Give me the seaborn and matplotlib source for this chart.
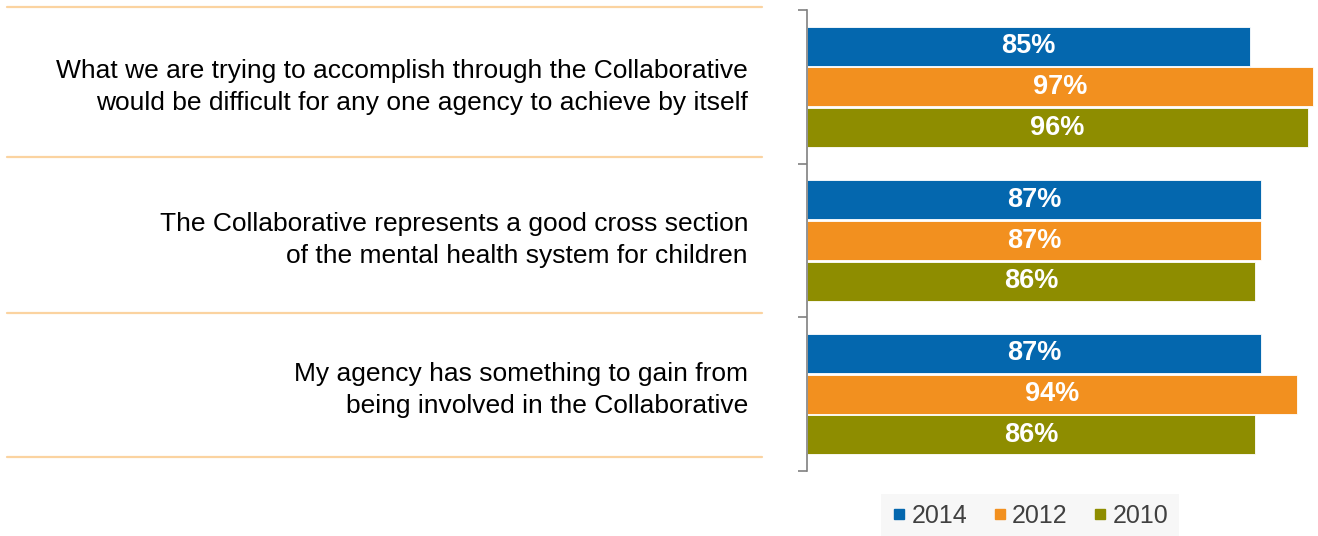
import matplotlib
matplotlib.use("Agg")
import matplotlib.pyplot as plt
from matplotlib.lines import Line2D
import seaborn as sns
import pandas as pd

# Survey statements and agreement shares by survey year
statements = [
    "What we are trying to accomplish through the Collaborative\nwould be difficult for any one agency to achieve by itself",
    "The Collaborative represents a good cross section\nof the mental health system for children",
    "My agency has something to gain from\nbeing involved in the Collaborative",
]
years = ["2014", "2012", "2010"]
pct_2014 = [85, 87, 87]
pct_2012 = [97, 87, 94]
pct_2010 = [96, 86, 86]

colors = ["#0467AE", "#F2901F", "#8E8D00"]

rows = []
for yr, vals in zip(years, [pct_2014, pct_2012, pct_2010]):
    for st, v in zip(statements, vals):
        rows.append({"statement": st, "year": yr, "pct": v})
df = pd.DataFrame(rows)

sns.set_theme(style="white")
plt.rcParams["font.family"] = ["Liberation Sans", "DejaVu Sans"]

W, H = 1318, 536
fig = plt.figure(figsize=(W / 100, H / 100), dpi=100)
ax_left, ax_right, ax_top, ax_bot = 807, 1318, 10, 471
ax = fig.add_axes([ax_left / W, 1 - ax_bot / H, (ax_right - ax_left) / W, (ax_bot - ax_top) / H])

sns.barplot(
    data=df, x="pct", y="statement", hue="year", hue_order=years,
    order=statements, palette=colors, saturation=1, orient="h",
    width=0.795, gap=0.04, edgecolor="white", linewidth=0.6, ax=ax, legend=False,
)

ax.set_xlim(0, 98)
ax.set_ylim(2.5, -0.5)
ax.set_xlabel("")
ax.set_ylabel("")
ax.set_xticks([])

# value labels inside the bars
for cont, vals in zip(ax.containers, [pct_2014, pct_2012, pct_2010]):
    ax.bar_label(cont, labels=[f"{v}%" for v in vals], label_type="center",
                 color="white", fontsize=19.5, fontweight="bold")

# boundary tick marks only; statements are written in the left panel
ax.set_yticks([])
ax.set_yticks([-0.5, 0.5, 1.5, 2.5], minor=True)
ax.tick_params(axis="y", which="minor", length=6.5, width=1.2, color="#808080", left=True)

for side in ["top", "right", "bottom"]:
    ax.spines[side].set_visible(False)
ax.spines["left"].set_color("#808080")
ax.spines["left"].set_linewidth(1.2)

# separator rules between statements, with each statement centred between them
rules = [7, 157, 313, 457]
for yp in rules:
    fig.add_artist(Line2D([7 / W, 762 / W], [1 - yp / H, 1 - yp / H],
                          transform=fig.transFigure, color="#FBD3A0", linewidth=1.6))
for st, top, bot in zip(statements, rules[:-1], rules[1:]):
    ymid = (top + bot) / 2 + 5
    fig.text(748 / W, 1 - ymid / H, st, ha="right", va="center", multialignment="right",
             fontsize=19, color="black", linespacing=1.4)

handles = [Line2D([0], [0], marker="s", linestyle="none", markersize=7.5,
                  markerfacecolor=c, markeredgecolor=c) for c in colors]
leg = fig.legend(handles, years, loc="center", bbox_to_anchor=(1030 / W, 1 - 516 / H),
                 ncol=3, frameon=True, fontsize=18, handlelength=0.6, handletextpad=0.2,
                 columnspacing=1.0, borderpad=0.4, fancybox=False)
leg.get_frame().set_facecolor("#F6F6F6")
leg.get_frame().set_edgecolor("none")
for t in leg.get_texts():
    t.set_color("#404040")

fig.savefig("out.png", dpi=100)
